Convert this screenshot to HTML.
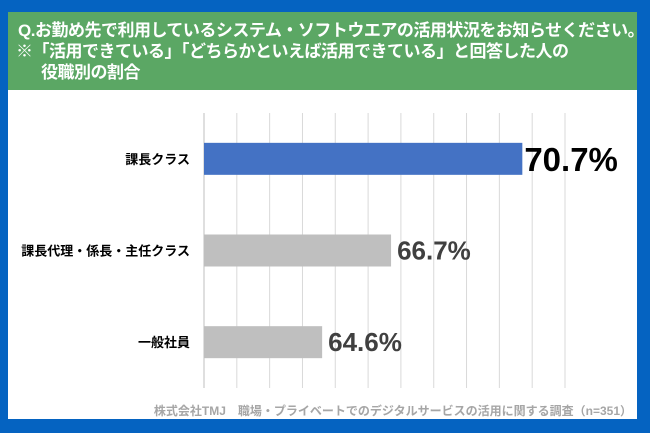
<!DOCTYPE html>
<html><head><meta charset="utf-8"><style>
body{margin:0;width:650px;height:433px;overflow:hidden;background:#0563c1;font-family:"Liberation Sans","Noto Sans CJK JP",sans-serif;}
#frame{position:absolute;left:8px;top:12px;width:629px;height:407px;background:#fff;}
#header{position:absolute;left:8px;top:12px;width:629px;height:78px;background:#5ba764;color:#fff;font-weight:bold;font-size:17px;line-height:20px;overflow:hidden;}
#header div{position:absolute;left:10px;white-space:nowrap;letter-spacing:-0.5px;}
#footer{position:absolute;right:18px;top:402px;font-size:12px;font-weight:bold;color:#a6a6a6;white-space:nowrap;}
</style></head><body>
<div id="frame"></div>
<div id="header">
<div style="top:9px">Q.お勤め先で利用しているシステム・ソフトウエアの活用状況をお知らせください。</div>
<div style="top:30px;left:8px">※「活用できている」「どちらかといえば活用できている」と回答した人の</div>
<div style="top:51px;left:33px">役職別の割合</div>
</div>
<svg id="chart" width="650" height="433" style="position:absolute;left:0;top:0"></svg>
<div id="footer">株式会社TMJ　職場・プライベートでのデジタルサービスの活用に関する調査（n=351）</div>
<script>
const categories=["課長クラス","課長代理・係長・主任クラス","一般社員"];
const values=[70.7,66.7,64.6];
const valueLabels=["70.7%","66.7%","64.6%"];
const axisMin=61, axisMax=72, gridStep=1;
const NS="http://www.w3.org/2000/svg";
const svg=document.getElementById('chart');
const plotX0=204,plotX1=565,plotTop=113,plotBottom=388;
const xs=v=>plotX0+(v-axisMin)/(axisMax-axisMin)*(plotX1-plotX0);
const bandH=(plotBottom-plotTop)/categories.length;
const yc=i=>plotTop+bandH*i+bandH/2;
function mk(t,a){const e=document.createElementNS(NS,t);for(const k in a)e.setAttribute(k,a[k]);svg.appendChild(e);return e;}
for(let v=axisMin;v<=axisMax+1e-9;v+=gridStep){
  const g=mk('line',{x1:xs(v),x2:xs(v),y1:plotTop,y2:plotBottom,stroke:v===axisMin?'#bfbfbf':'#d9d9d9','stroke-width':1});
  
  
}
categories.forEach((c,i)=>{
  const y=yc(i);
  const r=mk('rect',{x:plotX0,y:y-16,width:xs(values[i])-plotX0,height:32,fill:i===0?'#4472c4':'#bfbfbf'});
  
  
  const l=mk('text',{x:190,y:y+5,'text-anchor':'end','font-size':13,'font-weight':'bold',fill:'#000'});
  l.textContent=c;
  
  
  const big=i===0;
  const t=mk('text',{x:xs(values[i])+(big?2:6),y:y+(big?12:9),'font-size':big?33:26,'font-weight':'bold',fill:big?'#000':'#404040'});
  t.textContent=valueLabels[i];
  
  
});
</script>
</body></html>
